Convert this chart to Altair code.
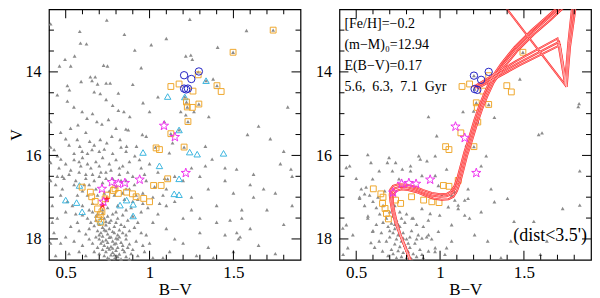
import altair as alt
import pandas as pd

FONT = "Liberation Serif"
BV_DOMAIN = [0.4, 1.9]
V_DOMAIN = [12.5, 18.5]
XMAJOR = [0.5, 1.0, 1.5]
XMINOR = [0.6, 0.7, 0.8, 0.9, 1.1, 1.2, 1.3, 1.4, 1.6, 1.7, 1.8]
YMAJOR = [14, 16, 18]
YMINOR = [13, 13.5, 14.5, 15, 15.5, 16.5, 17, 17.5]
W, H = 252, 251

GRAY_LEFT = [
    (0.745,12.76),(1.24,12.74),(0.41,12.85),(0.584,13.03),(0.588,13.31),(0.624,13.33),(1.01,13.35),(1.578,13.01),
    (1.406,13.41),(1.246,13.6),(1.216,13.62),(0.912,13.48),(0.553,13.62),(0.496,13.7),(0.463,13.86),(0.53,13.86),
    (0.726,13.84),(0.749,13.86),(0.647,14.12),(0.676,14.12),(0.657,14.21),(0.69,14.29),(0.741,14.27),(0.765,14.27),
    (0.51,14.33),(0.522,14.43),(0.814,14.51),(0.592,14.23),(1.255,13.7),(1.379,14.17),(0.67,14.48),
    (1.737,13.0),(1.498,13.53),(1.29,14.0),(1.402,14.33),(1.294,14.77),(1.225,14.84),(1.22,14.72),(1.229,15.19),
    (1.206,15.8),(1.127,15.48),(1.108,16.56),(1.035,15.8),(1.21,14.6),(1.176,15.39),(1.337,14.21),
    (0.706,14.52),(0.741,14.66),(0.51,14.7),(0.549,14.84),(0.41,15.19),(0.598,14.95),(0.627,15.11),(0.814,14.92),
    (0.847,14.95),(0.961,14.74),(1.265,14.95),(1.186,14.95),(1.216,15.03),(1.353,15.07),(1.824,14.84),(1.584,15.5),
    (1.0,14.95),(0.882,15.07),(0.859,15.37),(0.873,15.39),(0.529,15.35),(0.573,15.27),(0.686,15.19),(0.716,15.25),
    (0.755,15.14),(0.98,15.54),(0.957,15.5),(1.088,15.19),(0.431,15.86),(0.569,15.62),(0.584,15.78),(0.598,15.9),
    (0.643,15.66),(0.657,15.86),(0.706,15.62),(0.745,15.7),(0.775,15.54),(0.824,15.62),(0.863,15.78),(0.922,15.78),
    (1.137,15.7),(1.333,15.78),(0.47,15.45),(0.5,15.6),(0.62,15.45),(0.8,15.35),(0.66,15.0),(0.78,14.8),(0.45,14.55),
    (0.9,14.3),(1.05,14.6),(0.95,13.9),(1.1,13.2),(0.85,13.1),
    (0.912,16.01),(1.118,15.94),(1.373,16.09),(1.333,16.25),(1.519,16.33),(1.843,16.33),(0.471,16.09),(0.41,16.17),
    (0.451,16.01),(0.46,16.3),(0.49,16.55),(0.47,16.95),(0.44,16.7),(0.51,17.1),(0.53,16.35),(0.56,16.6),(0.57,16.95),
    (0.54,17.2),(0.59,16.25),(0.61,16.7),(0.63,16.95),(0.6,17.2),(0.62,16.45),(0.65,16.3),(0.67,16.6),(0.69,16.95),
    (0.66,17.15),(0.71,16.4),(0.73,16.9),(0.75,17.25),(0.77,16.35),(0.79,16.95),(0.81,17.2),(0.83,16.6),(0.85,17.05),
    (0.87,16.4),(0.89,17.25),(0.91,16.7),(0.93,17.05),(0.97,16.45),(0.99,17.25),(1.03,16.75),(1.06,17.15),(1.09,16.55),
    (0.55,15.95),(0.63,15.95),(0.7,15.9),(0.78,15.95),(0.86,15.9),(0.52,15.75),(0.67,15.75),(0.73,15.85),(0.83,15.8),
    (0.94,16.1),(0.58,16.15),(0.7,16.25),(0.74,16.55),(0.82,16.3),(0.86,16.8),(0.9,17.1),(0.96,17.15),(0.64,17.3),
    (0.72,17.3),(0.8,17.35),(0.86,17.3),(0.56,17.4),(0.5,17.35),(0.48,16.5),(0.5,16.2),(0.55,16.1),(0.6,16.05),
    (0.63,16.2),(0.68,16.15),(0.72,16.05),(0.76,16.2),(0.8,16.1),(0.84,16.25),(0.88,16.15),(0.95,16.3),(1.0,16.2),
    (1.05,16.4),(1.2,16.6),(1.3,16.5),(1.45,16.6),(1.6,16.7),(1.75,16.9),(0.45,16.5),(0.52,16.45),(0.58,16.4),
    (0.62,16.55),(0.66,16.45),(0.7,16.5),(0.74,16.4),(0.78,16.55),(0.82,16.45),(0.86,16.6),(0.9,16.5),(0.98,16.6),
    (1.1,16.8),(0.48,16.8),(0.55,16.7),(0.6,16.85),(0.64,16.7),(0.68,16.8),(0.72,16.65),(0.76,16.85),(0.8,16.75),
    (0.84,16.9),(0.88,16.8),(0.92,16.95),(0.96,16.9),(1.02,17.0),(1.08,16.95),(1.15,17.1),(1.25,17.0),(1.4,17.2),
    (1.55,17.3),(0.41,15.8),(0.41,16.6),(0.42,17.6),(0.41,18.1),
    (0.66,17.35),(0.69,17.4),(0.72,17.38),(0.75,17.45),(0.78,17.4),(0.81,17.5),(0.84,17.42),(0.68,17.55),(0.71,17.5),
    (0.74,17.58),(0.77,17.55),(0.80,17.6),(0.63,17.5),(0.87,17.55),(0.9,17.45),(0.6,17.42),(0.57,17.6),(0.93,17.6),
    (0.67,17.68),(0.70,17.65),(0.72,17.72),(0.74,17.66),(0.76,17.75),(0.79,17.7),(0.82,17.78),(0.85,17.7),(0.69,17.8),
    (0.71,17.85),(0.73,17.78),(0.75,17.88),(0.78,17.82),(0.81,17.9),(0.84,17.85),(0.88,17.8),(0.64,17.75),(0.62,17.88),
    (0.91,17.72),(0.95,17.85),(0.58,17.8),(0.53,17.7),
    (0.68,17.95),(0.70,18.0),(0.72,17.93),(0.74,18.02),(0.76,17.96),(0.78,18.05),(0.80,17.98),(0.83,18.08),(0.86,18.0),
    (0.71,18.1),(0.73,18.15),(0.75,18.08),(0.77,18.18),(0.79,18.12),(0.81,18.2),(0.84,18.15),(0.88,18.12),(0.66,18.1),
    (0.64,18.0),(0.92,18.05),(0.96,18.15),(0.6,18.15),(0.55,18.05),(1.0,18.1),(0.69,18.2),
    (0.72,18.25),(0.74,18.3),(0.76,18.24),(0.78,18.32),(0.80,18.27),(0.82,18.36),(0.85,18.3),(0.73,18.4),(0.75,18.45),
    (0.77,18.38),(0.79,18.47),(0.81,18.42),(0.83,18.48),(0.86,18.42),(0.89,18.35),(0.7,18.35),(0.67,18.3),(0.93,18.4),
    (0.97,18.3),(0.62,18.4),(0.58,18.3),(0.88,18.48),(0.76,18.48),(1.02,18.45),
    (0.73,17.5),(0.76,17.6),(0.79,17.85),(0.77,17.95),(0.8,18.1),(0.82,17.95),(0.75,18.2),(0.78,18.22),(0.74,17.8),
    (0.7,17.9),(0.72,18.05),(0.84,18.25),(0.81,18.0),(0.87,18.2),(0.79,18.38),(0.83,17.65),(0.86,17.9),(0.9,18.25),
    (0.65,17.6),(0.68,17.45),
    (0.42,17.2),(0.45,17.5),(0.43,17.85),(0.47,18.1),(0.44,18.4),(0.5,17.95),(0.52,18.35),(1.05,17.4),(1.1,17.75),
    (1.15,18.0),(1.2,17.5),(1.25,17.3),(1.3,17.85),(1.35,18.2),(1.4,17.6),(1.45,17.9),(1.5,18.3),(1.55,17.5),
    (1.6,17.75),(1.48,17.55),(1.52,17.85),(1.54,17.95),(1.53,18.0),(1.65,18.15),(1.7,17.3),(1.8,17.65),(1.85,17.2),
    (1.75,18.35),(1.12,18.3),(1.08,18.45),(0.98,17.9),(1.02,17.6),(0.95,17.35),(1.28,18.4),(1.38,18.45),(1.62,17.0),
    (1.68,16.8),(1.85,16.5),(1.78,16.2),(1.72,15.6),(1.65,15.3),(1.8,15.9),(1.62,16.45),(1.5,16.9),(1.45,16.3),
    (1.35,16.8),(1.25,16.3),(1.3,17.5),(1.2,18.1),(1.1,17.2),(1.15,16.5),
]

GRAY_RIGHT = [
    (1.494,13.53),(1.216,14.74),(1.202,15.79),(1.29,14.78),(1.225,15.2),(1.206,14.41),(1.202,14.09),
    (1.476,14.17),(1.824,14.83),(1.137,14.95),(1.2,14.94),(1.324,15.09),(0.98,15.53),(1.588,15.5),(1.157,15.76),
    (0.931,15.07),(0.569,15.98),(0.441,16.29),(0.588,16.17),(0.637,16.37),(0.5,16.55),(0.53,16.8),(0.55,16.92),
    (0.686,16.17),(0.716,16.37),(0.755,16.56),(0.824,16.37),(0.892,16.48),(0.882,16.09),(0.971,16.01),(0.99,16.72),
    (1.01,16.95),(1.069,16.95),(1.108,17.19),(1.167,16.8),(1.147,17.43),(1.206,17.9),(1.245,17.35),(1.304,16.8),
    (1.324,17.11),(1.402,17.03),(1.441,17.58),(1.422,18.05),(1.608,15.46),(1.637,18.05),(1.829,14.76),(1.833,16.37),
    (1.833,17.19),(1.731,17.27),(1.559,17.58),(0.42,17.74),(0.45,18.21),(0.48,17.9),(0.569,17.5),(0.598,17.82),
    (0.637,18.05),(0.657,18.29),(0.931,17.9),(0.971,18.21),(0.892,18.37),(1.029,18.37),(1.069,18.05),(1.284,18.05),
    (1.363,18.45),(1.598,18.37),(0.998,17.43),(1.069,17.66),(1.088,17.07),(1.167,17.03),
    (0.892,17.27),(0.941,17.39),(1.049,17.23),(1.108,17.27),(1.147,17.07),(1.176,17.5),(0.833,17.5),(0.99,17.82),
    (1.039,18.21),(0.892,17.98),(0.931,18.29),(0.461,16.25),(0.52,17.03),(0.559,16.76),(0.598,16.56),(0.441,17.66),
    (0.422,18.37),(0.588,18.09),(0.61,18.2),(0.696,16.05),(0.735,16.17),(0.775,16.33),(0.824,16.25),(0.873,16.01),
    (0.922,16.13),(0.971,16.48),(1.039,16.33),(1.088,16.88),(1.245,16.25),(1.275,16.01),
    (0.70,17.35),(0.72,17.45),(0.68,17.5),(0.74,17.55),(0.71,17.62),(0.69,17.7),(0.73,17.75),(0.76,17.7),(0.72,17.85),
    (0.75,17.9),(0.78,17.85),(0.70,17.95),(0.74,18.0),(0.77,18.05),(0.80,18.0),(0.73,18.12),(0.76,18.18),(0.79,18.15),
    (0.82,18.2),(0.75,18.28),(0.78,18.32),(0.81,18.3),(0.84,18.35),(0.77,18.42),(0.80,18.45),(0.83,18.47),(0.86,18.42),
    (0.66,17.6),(0.65,17.85),(0.68,18.05),(0.71,18.25),(0.69,18.4),(0.85,18.1),(0.88,18.25),(0.9,18.45),(0.82,17.95),
    (0.79,17.6),(0.83,17.8),(0.87,17.9),(0.64,17.4),(0.62,17.25),(0.6,17.1),(0.58,16.95),(0.63,17.0),(0.66,17.2),
    (0.67,16.85),(0.73,17.2),(0.76,17.35),(0.8,17.4),(0.84,17.5),(0.86,17.65),(0.9,17.7),(0.93,17.55),(0.62,17.65),
    (0.6,17.8),(0.57,17.45),(0.55,17.2),(0.52,17.0),(0.74,18.45),(0.72,18.35),(0.95,18.0),(0.92,17.95),(0.97,18.3),
    (0.86,18.0),(0.81,18.1),(0.78,17.98),(0.75,17.65),(0.77,17.5),(0.7,17.8),(0.73,17.65),
]

SQUARES_LEFT = [
    (1.737,13.0),(1.498,13.53),(1.127,14.35),(1.29,14.07),(1.176,14.29),(1.259,14.46),(1.402,14.33),(1.427,14.47),
    (1.22,14.72),(1.225,14.84),(1.255,14.85),(1.294,14.77),(1.229,15.19),(1.127,15.48),(1.206,15.8),(1.039,15.82),
    (1.059,15.86),(1.024,16.72),(1.069,16.72),(1.108,16.56),(0.598,16.76),(0.647,16.88),(0.655,16.99),(0.676,17.1),
    (0.69,17.28),(0.706,17.42),(0.696,17.52),(0.716,17.35),(0.735,17.04),(0.784,16.84),(0.814,16.91),(0.863,16.88),
    (0.898,16.92),(0.92,16.99),(0.965,17.03),(1.0,17.11),(0.745,16.95),(0.794,16.8),(0.71,17.6),
]
CYAN_LEFT = [
    (1.337,14.21),(1.108,14.59),(1.21,14.6),(1.176,15.39),(0.961,15.93),(1.239,15.92),(1.284,15.97),(1.441,15.95),
    (1.059,16.25),(1.176,16.56),(1.147,16.92),(1.176,16.94),(0.582,16.72),(0.5,17.07),(0.565,17.13),(0.598,17.35),
    (0.824,17.19),(0.902,17.17),(0.902,17.45),(0.863,17.07),(0.706,17.58),
]
STARS_LEFT = [
    (1.086,15.29),(1.151,15.56),(1.216,16.42),(0.941,16.58),(0.775,16.64),(0.814,16.68),(0.853,16.66),(0.716,16.8),
    (0.725,17.11),
]
RED_STARS_LEFT = [(0.72,17.2),(0.745,17.05)]
CIRCLES_LEFT = [(1.206,14.08),(1.249,14.17),(1.294,13.99),(1.206,14.4),(1.218,14.42),(1.229,14.4)]

SQUARES_RIGHT = [
    (1.494,13.53),(1.131,14.35),(1.176,14.29),(1.255,14.46),(1.29,14.09),(1.398,14.33),(1.425,14.48),(1.216,14.74),
    (1.222,14.85),(1.29,14.78),(1.225,15.2),(1.124,15.46),(1.202,15.79),(1.033,15.79),(1.053,15.86),(0.602,16.8),
    (0.647,16.92),(0.66,17.0),(0.657,17.15),(0.672,17.27),(0.68,17.39),(0.692,17.52),(0.735,17.07),(0.765,17.15),
    (1.02,16.72),(1.053,16.74),(1.108,16.6),(0.902,17.07),(0.951,17.11),(0.994,17.13),(0.83,16.99),
]
STARS_RIGHT = [
    (1.092,15.31),(1.147,15.58),(1.216,16.42),(0.941,16.58),(0.771,16.68),(0.814,16.66),(0.857,16.68),(0.72,16.89),
]
CIRCLES_RIGHT = [(1.202,14.09),(1.245,14.19),(1.29,14.0),(1.206,14.41),(1.222,14.43)]

ISO_AGES = ["5.6", "6.3", "7.1"]
ISO_RGB = {
    "5.6": [(0.84,18.7),(0.80,18.3),(0.76,17.9),(0.732,17.6),(0.715,17.35),(0.705,17.12),(0.70,16.95),(0.703,16.82),
            (0.72,16.73),(0.75,16.69),(0.80,16.70),(0.85,16.75),(0.90,16.83),(0.95,16.90),(1.00,16.93),(1.04,16.92),
            (1.065,16.86),(1.085,16.74),(1.105,16.52),(1.125,16.22),(1.145,15.92),(1.175,15.55),(1.205,15.15),
            (1.235,14.8),(1.265,14.5),(1.305,14.15),(1.365,13.8),(1.445,13.4),(1.545,13.0),(1.645,12.65),(1.72,12.38)],
    "6.3": [(0.84,18.7),(0.80,18.3),(0.762,17.9),(0.737,17.6),(0.722,17.35),(0.713,17.15),(0.71,17.0),(0.713,16.88),
            (0.73,16.79),(0.76,16.75),(0.80,16.76),(0.85,16.81),(0.90,16.89),(0.95,16.96),(1.00,16.99),(1.04,16.98),
            (1.07,16.92),(1.09,16.8),(1.11,16.58),(1.13,16.28),(1.15,15.97),(1.18,15.6),(1.21,15.2),(1.24,14.85),
            (1.27,14.55),(1.31,14.2),(1.37,13.85),(1.45,13.45),(1.55,13.05),(1.65,12.7),(1.73,12.42)],
    "7.1": [(0.845,18.7),(0.805,18.3),(0.765,17.9),(0.742,17.6),(0.728,17.35),(0.72,17.17),(0.718,17.05),(0.722,16.94),
            (0.74,16.85),(0.77,16.81),(0.81,16.83),(0.86,16.88),(0.91,16.96),(0.96,17.03),(1.01,17.06),(1.05,17.05),
            (1.08,16.99),(1.10,16.86),(1.12,16.64),(1.14,16.34),(1.16,16.02),(1.19,15.65),(1.22,15.25),(1.25,14.9),
            (1.28,14.6),(1.32,14.25),(1.38,13.9),(1.46,13.5),(1.56,13.1),(1.66,12.75),(1.74,12.45)],
}
ISO_HB = {
    "5.6": [(1.20,14.36),(1.45,13.75),(1.70,13.2),(1.745,14.28),(1.765,13.3),(1.79,12.35)],
    "6.3": [(1.21,14.38),(1.46,13.8),(1.71,13.28),(1.75,14.32),(1.77,13.35),(1.80,12.38)],
    "7.1": [(1.22,14.40),(1.47,13.85),(1.715,13.36),(1.755,14.36),(1.775,13.4),(1.81,12.4)],
}
ISO_LINK = [(1.39,12.45),(1.755,14.36)]

ANNOT = ["[Fe/H]=\u22120.2", "(m\u2212M)\u2080=12.94", "E(B\u2212V)=0.17",
         "5.6,\u00a0 6.3,\u00a0 7.1\u00a0 Gyr"]
DIST_LABEL = "(dist<3.5')"

GRAY = "#8c8c8c"
ORANGE = "#EFA82E"
CYAN = "#3DB6DF"
MAGENTA = "#EE33EE"
BLUE = "#2323C4"
RED = "#FF2A2A"
STAR_PATH = ("M0,-1L0.235,-0.324L0.951,-0.309L0.38,0.124L0.588,0.809L0,0.4"
             "L-0.588,0.809L-0.38,0.124L-0.951,-0.309L-0.235,-0.324Z")


def pts(p):
    return pd.DataFrame(p, columns=["bv", "V"])


def xenc(field):
    return alt.X(f"{field}:Q", scale=alt.Scale(domain=BV_DOMAIN, nice=False, zero=False),
                 axis=alt.Axis(values=XMAJOR, format="~g", title="B\u2212V", ticks=False, domain=False,
                               grid=False, labelFont=FONT, labelFontSize=17, labelPadding=5,
                               labelColor="black", titleFont=FONT, titleFontSize=17,
                               titleFontWeight="normal", titleColor="black", titlePadding=1))


def yenc(field, show_title):
    kw = dict(values=YMAJOR, ticks=False, domain=False, grid=False, labelFont=FONT,
              labelFontSize=16, labelPadding=8, labelColor="black")
    if show_title:
        kw.update(title="V", titleFont=FONT, titleFontSize=16, titleFontWeight="normal",
                  titleColor="black", titlePadding=0)
    else:
        kw.update(title=None)
    return alt.Y(f"{field}:Q", scale=alt.Scale(domain=V_DOMAIN, reverse=True, nice=False, zero=False),
                 axis=alt.Axis(**kw))


def tick_layers(st):
    out = []
    for vals, L in ((XMAJOR, 9), (XMINOR, 5)):
        base = alt.Chart(pd.DataFrame({"t": vals})).mark_tick(
            orient="vertical", size=L, thickness=1, color="black", opacity=1)
        out.append(base.encode(x=xenc("t"), y=alt.value(H - L / 2)))
        out.append(base.encode(x=xenc("t"), y=alt.value(L / 2)))
    for vals, L in ((YMAJOR, 9), (YMINOR, 5)):
        base = alt.Chart(pd.DataFrame({"t": vals})).mark_tick(
            orient="horizontal", size=L, thickness=1, color="black", opacity=1)
        out.append(base.encode(y=yenc("t", st), x=alt.value(L / 2)))
        out.append(base.encode(y=yenc("t", st), x=alt.value(W - L / 2)))
    return out


def sym(data, st, shape, color, size, filled=False, sw=1.0):
    m = alt.Chart(pts(data)).mark_point(shape=shape, filled=filled, size=size, color=color,
                                        opacity=1, strokeWidth=sw)
    return m.encode(x=xenc("bv"), y=yenc("V", st))


left_layers = [
    sym(GRAY_LEFT, True, "triangle-up", GRAY, 15, filled=True),
    sym(CYAN_LEFT, True, "triangle-up", CYAN, 42),
    sym(SQUARES_LEFT, True, "square", ORANGE, 34),
    sym(RED_STARS_LEFT, True, STAR_PATH, RED, 60, filled=True),
    sym(STARS_LEFT, True, STAR_PATH, MAGENTA, 95),
    sym(CIRCLES_LEFT, True, "circle", BLUE, 55),
] + tick_layers(True)

rows = []
for age in ISO_AGES:
    for i, (b, v) in enumerate(ISO_RGB[age]):
        rows.append({"key": age + "rgb", "idx": i, "bv": b, "V": v})
    for i, (b, v) in enumerate(ISO_HB[age]):
        rows.append({"key": age + "hb", "idx": i, "bv": b, "V": v})
for i, (b, v) in enumerate(ISO_LINK):
    rows.append({"key": "link", "idx": i, "bv": b, "V": v})
iso = pd.DataFrame(rows)

iso_outer = alt.Chart(iso).mark_line(color=RED, strokeWidth=2.0, clip=True).encode(
    x=xenc("bv"), y=yenc("V", False), detail="key:N", order="idx:Q")
iso_inner = alt.Chart(iso).mark_line(color="#ffd2d2", strokeWidth=0.6, clip=True).encode(
    x=xenc("bv"), y=yenc("V", False), detail="key:N", order="idx:Q")

text_layers = []
for i, t in enumerate(ANNOT):
    text_layers.append(
        alt.Chart(pd.DataFrame({"label": [t]})).mark_text(
            align="left", baseline="middle", font=FONT, fontSize=14, color="black").encode(
            text="label:N", x=alt.value(5), y=alt.value(15 + 21 * i)))
text_layers.append(
    alt.Chart(pd.DataFrame({"label": [DIST_LABEL]})).mark_text(
        align="right", baseline="middle", font=FONT, fontSize=18, color="black").encode(
        text="label:N", x=alt.value(248), y=alt.value(227)))

right_layers = [
    sym(GRAY_RIGHT, False, "triangle-up", GRAY, 15, filled=True),
    sym(SQUARES_RIGHT, False, "square", ORANGE, 34),
    iso_outer,
    iso_inner,
    sym(STARS_RIGHT, False, STAR_PATH, MAGENTA, 95),
    sym(CIRCLES_RIGHT, False, "circle", BLUE, 55),
] + tick_layers(False) + text_layers

left = alt.layer(*left_layers).properties(width=W, height=H)
right = alt.layer(*right_layers).properties(width=W, height=H)

chart = alt.hconcat(left, right, spacing=39, bounds="flush").properties(padding=0).configure_view(
    stroke="black", strokeWidth=1.2)

chart.save("out.html", embed_options={"renderer": "svg", "actions": False})
